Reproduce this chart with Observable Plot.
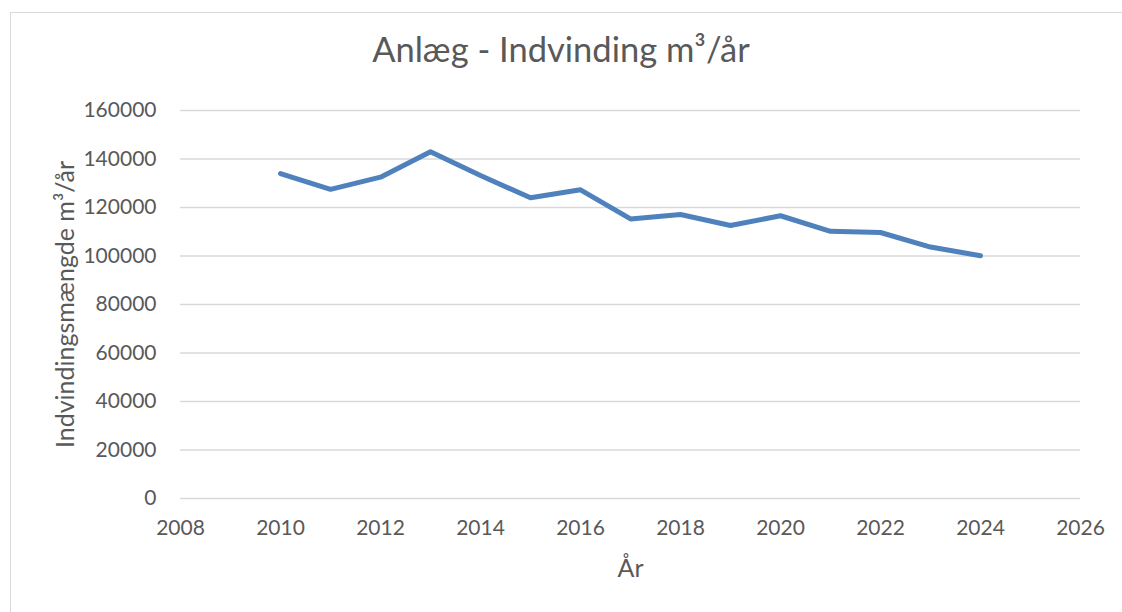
<!DOCTYPE html>
<html>
<head>
<meta charset="utf-8">
<script src="https://cdn.jsdelivr.net/npm/d3@7"></script>
<script src="https://cdn.jsdelivr.net/npm/@observablehq/plot@0.6"></script>
<style>
  html, body { margin: 0; padding: 0; background: #fff; }
  #wrap { position: relative; width: 1122px; height: 612px; overflow: hidden; font-family: Lato, "Open Sans", sans-serif; }
  #frame { position: absolute; left: 10px; top: 12px; width: 1120px; height: 610px; border: 1.5px solid #d9d9d9; box-sizing: border-box; }
  #title { position: absolute; left: 0; top: 0; width: 1122px; height: 90px; text-align: center; color: #595959; font-size: 34.5px; line-height: 90px; padding-top: 4px; box-sizing: border-box; }
  #chart { position: absolute; left: 0; top: 90px; }
</style>
</head>
<body>
<div id="wrap">
  <div id="frame"></div>
  <div id="title">Anlæg - Indvinding m³/år</div>
  <div id="chart"></div>
</div>
<script>
const years = [2010, 2011, 2012, 2013, 2014, 2015, 2016, 2017, 2018, 2019, 2020, 2021, 2022, 2023, 2024];
const volumes = [134000, 127500, 132500, 143000, 133200, 124000, 127300, 115300, 117100, 112600, 116600, 110200, 109700, 103700, 100100];
const xTicks = [2008, 2010, 2012, 2014, 2016, 2018, 2020, 2022, 2024, 2026];
const yTicks = [0, 20000, 40000, 60000, 80000, 100000, 120000, 140000, 160000];
const xLabel = "År";
const yLabel = "Indvindingsmængde m³/år";

const data = years.map((y, i) => ({year: y, value: volumes[i]}));

const plot = Plot.plot({
  width: 1122,
  height: 522,
  marginTop: 20,
  marginBottom: 114,
  marginLeft: 180,
  marginRight: 42,
  style: {fontFamily: "Lato, 'Open Sans', sans-serif", fontSize: "21px", color: "#595959", background: "transparent", overflow: "visible"},
  x: {domain: [2008, 2026], label: null},
  y: {domain: [0, 160000], label: null},
  marks: [
    Plot.gridY(yTicks, {stroke: "#d9d9d9", strokeOpacity: 1, strokeWidth: 1.5}),
    Plot.axisX(xTicks, {tickSize: 0, tickPadding: 22, tickFormat: d => String(d), label: null, fill: "#595959"}),
    Plot.axisY(yTicks, {tickSize: 0, tickPadding: 24, tickFormat: d => String(d), label: null, fill: "#595959"}),
    Plot.text([xLabel], {frameAnchor: "bottom", text: d => d, dy: 70, textAnchor: "middle", lineAnchor: "middle", fontSize: 25, fill: "#595959"}),
    Plot.text([yLabel], {frameAnchor: "left", text: d => d, dx: -115, rotate: -90, textAnchor: "middle", lineAnchor: "middle", fontSize: 25, fill: "#595959"}),
    Plot.line(data, {x: "year", y: "value", stroke: "#4f81bd", strokeWidth: 5, strokeLinejoin: "round", strokeLinecap: "round"})
  ]
});
document.getElementById("chart").appendChild(plot);
</script>
</body>
</html>
